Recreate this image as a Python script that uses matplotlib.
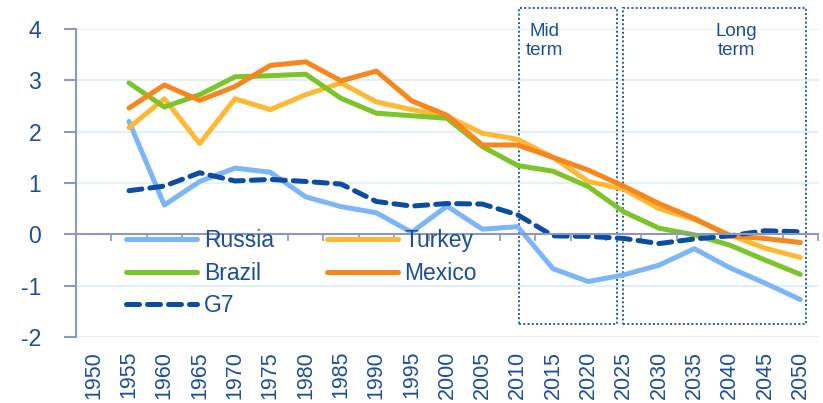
import numpy as np
import matplotlib.pyplot as plt
from matplotlib.patches import Rectangle

plt.rcParams["font.family"] = ["Liberation Sans", "DejaVu Sans"]
plt.rcParams["axes.unicode_minus"] = False

years = [str(y) for y in range(1950, 2051, 5)]

# 1950 has no value
russia = [np.nan, 2.2, 0.57, 1.03, 1.29, 1.21, 0.73, 0.54, 0.42, 0.04, 0.55,
          0.1, 0.15, -0.67, -0.92, -0.79, -0.6, -0.28, -0.65, -0.95, -1.27]
turkey = [np.nan, 2.08, 2.64, 1.77, 2.64, 2.43, 2.72, 2.95, 2.58, 2.43, 2.3,
          1.97, 1.85, 1.5, 1.03, 0.88, 0.5, 0.29, -0.01, -0.27, -0.45]
brazil = [np.nan, 2.95, 2.48, 2.72, 3.07, 3.09, 3.12, 2.65, 2.36, 2.31, 2.26,
          1.71, 1.34, 1.23, 0.93, 0.44, 0.12, -0.01, -0.21, -0.5, -0.78]
mexico = [np.nan, 2.46, 2.91, 2.61, 2.88, 3.29, 3.36, 2.99, 3.18, 2.6, 2.32,
          1.74, 1.74, 1.5, 1.25, 0.94, 0.6, 0.31, -0.03, -0.08, -0.16]
g7 = [np.nan, 0.85, 0.94, 1.2, 1.04, 1.07, 1.03, 0.98, 0.64, 0.55, 0.6,
      0.59, 0.38, -0.03, -0.04, -0.08, -0.18, -0.09, -0.03, 0.07, 0.05]

txt = "#1B4F9C"
axcol = "#8E97BF"

fig = plt.figure(figsize=(8.23, 4.03), dpi=100)
ax = fig.add_axes([76 / 823, 66 / 403, 742 / 823, 308 / 403])

x = np.arange(len(years))
l_ru, = ax.plot(x, russia, color="#7DB6F7", lw=3.6, label="Russia", solid_capstyle="round")
l_tr, = ax.plot(x, turkey, color="#FFB833", lw=3.6, label="Turkey", solid_capstyle="round")
l_br, = ax.plot(x, brazil, color="#7CC42A", lw=3.6, label="Brazil", solid_capstyle="round")
l_mx, = ax.plot(x, mexico, color="#F7861C", lw=3.6, label="Mexico", solid_capstyle="round")
l_g7, = ax.plot(x, g7, color="#0A4DA2", lw=3.6, ls=(0, (2.6, 1.6)), label="G7",
                dash_capstyle="round")

ax.set_xlim(-0.5, len(years) - 0.5)
ax.set_ylim(-2, 4)

# y axis
ax.set_yticks(range(-2, 5))
ax.grid(axis="y", color="#E3EFFA", lw=1.5)
ax.set_axisbelow(True)
ax.tick_params(axis="y", colors=axcol, length=9, width=1.5, labelsize=16.5,
               labelcolor=txt, pad=16)
ax.spines["left"].set_color(axcol)
ax.spines["left"].set_linewidth(1.5)
for s in ["top", "right"]:
    ax.spines[s].set_visible(False)

# x axis line at zero with ticks between categories
ax.spines["bottom"].set_position(("data", 0))
ax.spines["bottom"].set_color(axcol)
ax.spines["bottom"].set_linewidth(1.5)
ax.set_xticks(np.arange(-0.5, len(years), 1.0))
ax.tick_params(axis="x", colors=axcol, length=5, width=1.2, labelbottom=False)

sec = ax.secondary_xaxis("bottom")
sec.set_xticks(x, labels=years, rotation=90)
sec.tick_params(length=0, pad=10, labelsize=15.5, labelcolor=txt)
sec.spines["bottom"].set_visible(False)
for lab in sec.get_xticklabels():
    lab.set_va("top")

# mid / long term boxes
box = dict(fill=False, ec="#1F5FAF", lw=1.4, ls=(0, (1, 1.2)), clip_on=False)
ax.add_patch(Rectangle((12.04, -1.75), 2.77, 6.16, **box))
ax.add_patch(Rectangle((14.98, -1.75), 5.18, 6.16, **box))
ax.text(12.77, 4.12, "Mid\nterm", ha="center", va="top", fontsize=13.5, color=txt)
ax.text(18.18, 4.12, "Long\nterm", ha="center", va="top", fontsize=13.5, color=txt)

# legend filled row by row like the original
ax.legend([l_ru, l_br, l_g7, l_tr, l_mx], ["Russia", "Brazil", "G7", "Turkey", "Mexico"],
          ncol=2, frameon=False, loc="upper left",
          bbox_to_anchor=(126 / 823, 1 - 229 / 403), bbox_transform=fig.transFigure,
          borderpad=0, borderaxespad=0, fontsize=16.5, labelcolor=txt,
          handlelength=3.1, handletextpad=0.3, columnspacing=2.3, labelspacing=0.42)

fig.savefig("out.png", dpi=100)
